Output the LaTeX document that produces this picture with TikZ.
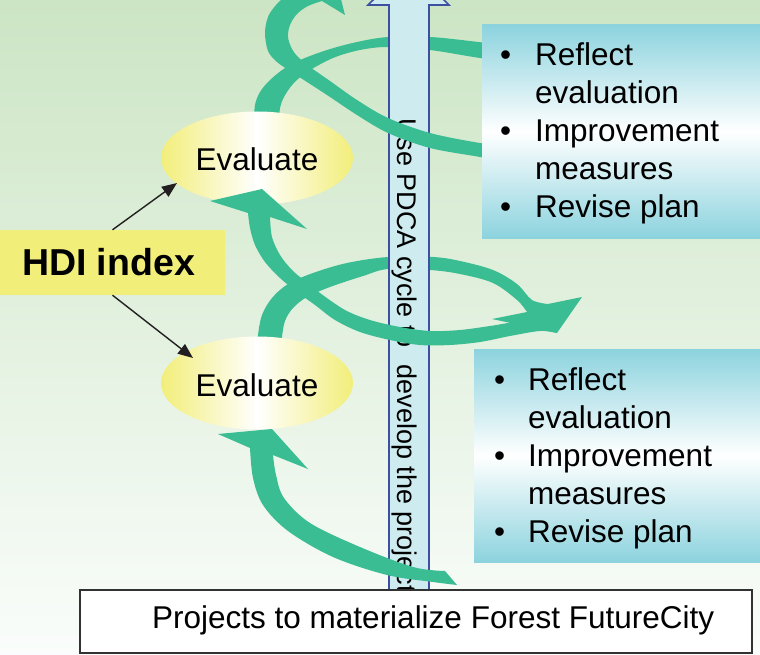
\documentclass[tikz,border=0pt]{standalone}
\usepackage{fontspec}
\setmainfont{Liberation Sans}
\usetikzlibrary{arrows.meta,shapes.geometric}
\definecolor{bgtop}{RGB}{204,229,196}
\definecolor{bgbot}{RGB}{250,253,251}
\definecolor{grn}{RGB}{59,189,148}
\definecolor{yel}{RGB}{242,238,122}
\definecolor{cyn}{RGB}{140,211,222}
\definecolor{shaftfill}{RGB}{206,236,240}
\definecolor{shaftline}{RGB}{61,79,161}
\definecolor{ink}{RGB}{35,31,32}
\definecolor{boxline}{RGB}{50,50,50}
\begin{document}
\begin{tikzpicture}[x=1pt,y=-1pt,
  lbl/.style={font=\fontsize{31.5}{38}\selectfont, inner sep=0pt, anchor=base west, text=black},
  evalnode/.style={ellipse, minimum width=192pt, minimum height=93pt, inner sep=0pt,
    left color=yel, right color=yel, middle color=white, text=black,
    text height=26pt, text depth=0pt, font=\fontsize{31.5}{38}\selectfont},
  rbox/.style={rectangle, inner sep=0pt, top color=cyn, bottom color=cyn, middle color=white, minimum height=213pt},
  band/.style={fill=grn},
  hdiarrow/.style={draw=ink, line width=1.4pt, -{Triangle[length=15pt,width=12pt]}},
]
\useasboundingbox (0,0) rectangle (760,655);
\clip (0,0) rectangle (760,655);
\fill[top color=bgtop, bottom color=bgbot] (0,0) rectangle (760,655);

% green strands behind the shaft
\fill[band] plot[smooth, tension=0.55] coordinates {(254,122) (255,105) (260,92) (270,80) (285,68) (300,60) (327,50) (357,42) (388,37) (430,37) (470,41) (510,46)}
  -- plot[smooth, tension=0.55] coordinates {(510,61) (480,58) (430,50) (388,47) (360,50) (333,58) (307,72) (293,84) (284,97) (280,108) (279,122)} -- cycle;
\fill[band] plot[smooth, tension=0.55] coordinates {(258,345) (258,335) (262,315) (272,298) (288,284) (313,273) (347,263) (388,257) (433,257) (460,261) (493,270) (517,284) (532,300) (548,304)}
  -- (582,297) -- (557,333) -- (492,319)
  -- plot[smooth, tension=0.55] coordinates {(527,312) (517,300) (493,283) (460,274) (430,270) (388,269) (363,276) (330,287) (307,297) (293,308) (285,321) (282,337) (282,345)} -- cycle;

% evaluate ellipses
\node[evalnode] (ev1) at (257,158) {Evaluate};
\node[evalnode] (ev2) at (257,383) {Evaluate};

% vertical arrow
\draw[fill=shaftfill, draw=shaftline, line width=1.6pt]
  (389,591) -- (389,5) -- (368,5) -- (409,-35) -- (449,5) -- (429,5) -- (429,591) -- cycle;
\begin{scope}
  \clip (390,6) rectangle (428,590);
  \node[rotate=-90, anchor=base west, inner sep=0pt, text=black, font=\fontsize{27}{32}\selectfont] (pdca) at (397,118) {Use PDCA cycle to\hspace{17pt}develop the projects};
\end{scope}

% green strands in front of the shaft
\fill[band] plot[smooth, tension=0.55] coordinates {(510,163) (480,157) (430,148) (388,133) (357,115) (330,97) (307,82) (290,71) (277,62) (268,51) (265,33) (268,17) (276,5) (287,-5) (299,-13)}
  -- (280,-28) -- (331,-40) -- (345,15)
  -- plot[smooth, tension=0.55] coordinates {(322,1) (308,6) (297,14) (290,25) (288,37) (292,49) (299,58) (310,67) (330,81) (357,100) (388,118) (430,133) (480,143) (510,146)} -- cycle;
\fill[band] plot[smooth, tension=0.55] coordinates {(557,333) (540,331) (510,336) (480,342) (450,345) (420,345) (390,340) (360,332) (335,320) (315,305) (297,292) (280,278) (265,262) (255,245) (250,228) (248,213)}
  -- (210,201) -- (262,189) -- (307,229)
  -- plot[smooth, tension=0.55] coordinates {(270,217) (272,237) (280,255) (292,270) (305,281) (320,293) (345,310) (370,320) (400,327) (430,331) (460,330) (490,326) (515,322) (535,321)} -- cycle;
\fill[band] plot[smooth, tension=0.55] coordinates {(457,585) (433,582) (387,575) (333,557) (288,531) (263,505) (253,478) (250,448)}
  -- (218,434) -- (272,429) -- (308,469)
  -- plot[smooth, tension=0.55] coordinates {(273,455) (276,475) (284,498) (310,523) (360,547) (413,567) (445,571)} -- cycle;

% blue boxes
\node[rbox, minimum width=278pt] (rb1) at (621,131.5) {};
\node[rbox, minimum width=286pt] (rb2) at (617,455.5) {};
\node[lbl] (b1a) at (500,66) {•};
\node[lbl] (t1a) at (535,66) {Reflect};
\node[lbl] (t1b) at (535,104) {evaluation};
\node[lbl] (b1c) at (500,142) {•};
\node[lbl] (t1c) at (535,142) {Improvement};
\node[lbl] (t1d) at (535,180) {measures};
\node[lbl] (b1e) at (500,218) {•};
\node[lbl] (t1e) at (535,218) {Revise plan};
\node[lbl] (b2a) at (494,390) {•};
\node[lbl] (t2a) at (528,390) {Reflect};
\node[lbl] (t2b) at (528,428) {evaluation};
\node[lbl] (b2c) at (494,466) {•};
\node[lbl] (t2c) at (528,466) {Improvement};
\node[lbl] (t2d) at (528,504) {measures};
\node[lbl] (b2e) at (494,542) {•};
\node[lbl] (t2e) at (528,542) {Revise plan};

% HDI box and arrows
\node[rectangle, fill=yel, inner sep=0pt, minimum width=225pt, minimum height=65pt,
  text=black, font=\fontsize{37.5}{44}\selectfont\bfseries] (hdi) at (112.5,262.5) {\hspace*{-8pt}HDI index};
\draw[hdiarrow] (hdi.north) -- ([shift={(-80,25)}]ev1.center);
\draw[hdiarrow] (hdi.south) -- ([shift={(-64,-25)}]ev2.center);

% projects box
\node[rectangle, draw=boxline, line width=1.6pt, fill=white, inner sep=0pt,
  minimum width=672pt, minimum height=63pt] (proj) at (416,621.5) {};
\node[lbl] (projtxt) at (152,628) {Projects to materialize Forest FutureCity};
\end{tikzpicture}
\end{document}
